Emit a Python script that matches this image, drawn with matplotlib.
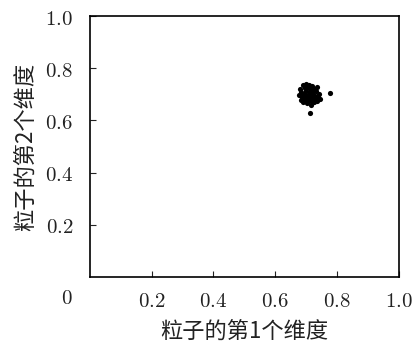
import matplotlib
matplotlib.use("Agg")
import matplotlib.pyplot as plt

plt.rcParams['font.family'] = ['Noto Sans CJK SC', 'DejaVu Sans']
plt.rcParams['mathtext.fontset'] = 'cm'

# particle positions (dim1, dim2)
dim1 = [0.690, 0.700, 0.710, 0.720, 0.680, 0.695, 0.705, 0.715, 0.725, 0.735,
        0.685, 0.700, 0.712, 0.722, 0.732, 0.742, 0.678, 0.692, 0.708, 0.718,
        0.728, 0.688, 0.698, 0.710, 0.720, 0.740, 0.682, 0.694, 0.704, 0.716,
        0.730, 0.745, 0.690, 0.702, 0.724, 0.736, 0.777, 0.715, 0.712, 0.706]
dim2 = [0.735, 0.738, 0.736, 0.732, 0.722, 0.725, 0.728, 0.724, 0.720, 0.728,
        0.710, 0.714, 0.712, 0.708, 0.712, 0.700, 0.698, 0.700, 0.702, 0.698,
        0.694, 0.688, 0.690, 0.686, 0.684, 0.690, 0.678, 0.680, 0.676, 0.674,
        0.680, 0.682, 0.670, 0.668, 0.672, 0.676, 0.706, 0.660, 0.630, 0.694]

ticks = [0.2, 0.4, 0.6, 0.8, 1.0]

fig = plt.figure(figsize=(4.12, 3.47), dpi=100)
ax = fig.add_axes([0.218, 0.2017, 0.75, 0.752])
ax.scatter(dim1, dim2, s=14, color='black', linewidths=0)
ax.set_xlim(0, 1)
ax.set_ylim(0, 1)
ax.set_xticks(ticks)
ax.set_yticks(ticks)
ax.set_xticklabels(['$%.1f$' % t for t in ticks], fontsize=15)
ax.set_yticklabels(['$%.1f$' % t for t in ticks], fontsize=15)
ax.tick_params(direction='in', length=4, width=0.8, colors='#222222')
ax.tick_params(axis='x', pad=9)
ax.tick_params(axis='y', pad=12)
for sp in ax.spines.values():
    sp.set_linewidth(1.2)
ax.text(-0.075, -0.08, '$0$', fontsize=15, transform=ax.transAxes,
        ha='center', va='center', color='#222222')
ax.set_xlabel('粒子的第1个维度', fontsize=16, labelpad=6,
              fontweight='light', color='#222222')
ax.set_ylabel('粒子的第2个维度', fontsize=16, labelpad=6,
              fontweight='light', color='#222222')

fig.savefig('out.png', dpi=100)
